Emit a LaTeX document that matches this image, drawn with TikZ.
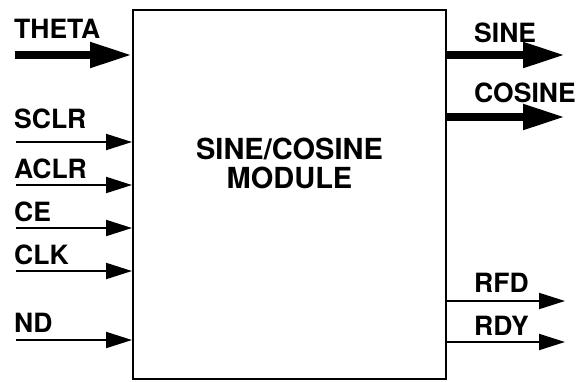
\documentclass[tikz,border=0pt]{standalone}
\usepackage{fontspec}
\setmainfont{TeX Gyre Heros}
\usetikzlibrary{arrows.meta, positioning, calc}

\tikzset{
  busline/.style={line width=8pt, -{Triangle[length=42pt, width=24pt]}},
  sigline/.style={line width=2pt, -{Triangle[length=26pt, width=16pt]}},
  pinlabel/.style={anchor=base west, inner sep=0pt, font=\fontsize{26.5}{30}\selectfont\bfseries},
}

\begin{document}
\begin{tikzpicture}[x=1pt, y=-1pt]
  \useasboundingbox (0,0) rectangle (577,381);
  % the module block
  \node[draw, line width=2pt, minimum width=313pt, minimum height=369pt, inner sep=0pt]
    (module) at (289.5,194.5) {};
  \node[align=center, inner sep=0pt, font=\fontsize{29}{29}\selectfont\bfseries]
    (title) at (289.5,163) {SINE/COSINE\\MODULE};
  % inputs
  \coordinate (theta) at (15,55);
  \node[pinlabel] (thetalbl) at (14,38) {THETA};
  \draw[busline] (theta) -- (theta -| module.west);
  \foreach \name/\y in {sclr/142, aclr/185, ce/228, clk/271, nd/340} {
    \coordinate (\name) at (16,\y);
  }
  \foreach \name/\txt/\base in {sclr/SCLR/128, aclr/ACLR/178, ce/CE/221, clk/CLK/264, nd/ND/332} {
    \node[pinlabel] (\name lbl) at (14,\base) {\txt};
    \draw[sigline] (\name) -- (\name -| module.west);
  }
  % outputs
  \foreach \name/\txt/\y/\base in {sine/SINE/55/42, cosine/COSINE/117/102} {
    \coordinate (\name) at (565,\y);
    \node[pinlabel] (\name lbl) at (474,\base) {\txt};
    \draw[busline] (\name -| module.east) -- (\name);
  }
  \foreach \name/\txt/\y/\base in {rfd/RFD/301/292, rdy/RDY/342/335} {
    \coordinate (\name) at (565,\y);
    \node[pinlabel] (\name lbl) at (474,\base) {\txt};
    \draw[sigline] (\name -| module.east) -- (\name);
  }
\end{tikzpicture}
\end{document}
